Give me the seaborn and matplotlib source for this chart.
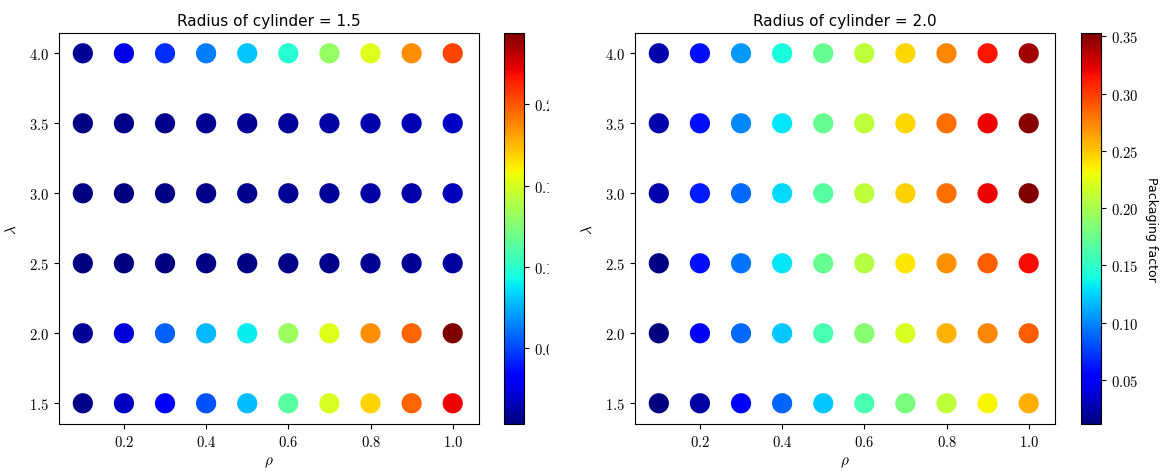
import numpy as np
import pandas as pd
import matplotlib
matplotlib.use("Agg")
import matplotlib.pyplot as plt
import matplotlib.ticker as mticker
from matplotlib.colors import Normalize
from matplotlib.cm import ScalarMappable
import seaborn as sns

plt.rcParams["mathtext.fontset"] = "cm"
plt.rcParams["font.family"] = ["DejaVu Sans"]

JET = matplotlib.colormaps["jet"]

# Grid of geometry parameters
rho = [0.1, 0.2, 0.3, 0.4, 0.5, 0.6, 0.7, 0.8, 0.9, 1.0]
lam = [1.5, 2.0, 2.5, 3.0, 3.5, 4.0]
radii = [1.5, 2.0]

# Packaging factor, cylinder radius 1.5 (one list per lambda)
pf_r15_l15 = [0.005, 0.018, 0.030, 0.052, 0.078, 0.113, 0.150, 0.168, 0.196, 0.221]
pf_r15_l20 = [0.008, 0.022, 0.056, 0.077, 0.089, 0.132, 0.152, 0.186, 0.196, 0.244]
pf_r15_l25 = [0.003, 0.003, 0.0035, 0.004, 0.0045, 0.005, 0.006, 0.007, 0.008, 0.010]
pf_r15_l30 = [0.003, 0.0035, 0.004, 0.005, 0.006, 0.007, 0.009, 0.011, 0.012, 0.016]
pf_r15_l35 = [0.004, 0.005, 0.006, 0.007, 0.008, 0.009, 0.011, 0.013, 0.0145, 0.0175]
pf_r15_l40 = [0.008, 0.025, 0.044, 0.063, 0.080, 0.099, 0.131, 0.152, 0.186, 0.205]

# Packaging factor, cylinder radius 2.0 (one list per lambda)
pf_r20_l15 = [0.0115, 0.023, 0.051, 0.088, 0.122, 0.160, 0.181, 0.210, 0.234, 0.259]
pf_r20_l20 = [0.012, 0.051, 0.089, 0.122, 0.160, 0.187, 0.220, 0.257, 0.273, 0.288]
pf_r20_l25 = [0.014, 0.059, 0.094, 0.131, 0.173, 0.205, 0.239, 0.269, 0.288, 0.317]
pf_r20_l30 = [0.026, 0.063, 0.089, 0.127, 0.167, 0.210, 0.247, 0.281, 0.320, 0.353]
pf_r20_l35 = [0.026, 0.059, 0.100, 0.131, 0.173, 0.210, 0.244, 0.281, 0.320, 0.350]
pf_r20_l40 = [0.026, 0.059, 0.105, 0.141, 0.173, 0.210, 0.244, 0.273, 0.313, 0.343]

pf = {
    1.5: [pf_r15_l15, pf_r15_l20, pf_r15_l25, pf_r15_l30, pf_r15_l35, pf_r15_l40],
    2.0: [pf_r20_l15, pf_r20_l20, pf_r20_l25, pf_r20_l30, pf_r20_l35, pf_r20_l40],
}


def frame_for(radius):
    rows = []
    for l, vals in zip(lam, pf[radius]):
        for r, v in zip(rho, vals):
            rows.append({"rho": r, "lam": l, "pf": v})
    return pd.DataFrame(rows)


def math_fmt(fmt):
    return mticker.FuncFormatter(lambda v, pos: "$" + format(v, fmt) + "$")


W, H = 1170, 477
fig = plt.figure(figsize=(W / 100, H / 100), dpi=100)
split = 549
subfigs = fig.subfigures(1, 2, width_ratios=[split, W - split], wspace=0, hspace=0,
                         facecolor="white")

ax_bottom, ax_height = 52 / H, 391 / H
layout = [
    # (subfigure, subfigure x0, axes x, colorbar x, show cbar label)
    (subfigs[0], 0, 59, 504, False),
    (subfigs[1], split, 635, 1081, True),
]

for radius, (sf, x0, axx, cbx, show_label) in zip(radii, layout):
    sf.patch.set_facecolor("white")
    sf.patch.set_visible(True)
    sw = (W - split) if x0 else split
    ax = sf.add_axes([(axx - x0) / sw, ax_bottom, 420 / sw, ax_height])
    cax = sf.add_axes([(cbx - x0) / sw, ax_bottom, 20 / sw, ax_height])

    df = frame_for(radius)
    norm = Normalize(vmin=df["pf"].min(), vmax=df["pf"].max())
    sns.scatterplot(data=df, x="rho", y="lam", hue="pf", palette=JET,
                    hue_norm=norm, s=250, legend=False, ax=ax)

    ax.set_xlim(0.042, 1.064)
    ax.set_ylim(1.352, 4.145)
    ax.set_xticks([0.2, 0.4, 0.6, 0.8, 1.0])
    ax.set_yticks(lam)
    ax.xaxis.set_major_formatter(math_fmt(".1f"))
    ax.yaxis.set_major_formatter(math_fmt(".1f"))
    ax.tick_params(labelsize=10.5)
    ax.set_xlabel(r"$\rho$", fontsize=11)
    ax.set_ylabel(r"$\lambda$", fontsize=11)
    ax.yaxis.set_label_coords(-0.095, 0.5)
    ax.set_title(f"Radius of cylinder = {radius:.1f}", fontsize=11)

    cbar = fig.colorbar(ScalarMappable(norm=norm, cmap=JET), cax=cax)
    cbar.ax.yaxis.set_major_formatter(math_fmt(".2f"))
    cbar.ax.tick_params(labelsize=10.5)
    if show_label:
        cbar.set_label("Packaging factor", rotation=270, labelpad=14, fontsize=9)

fig.savefig("out.png", dpi=100)
